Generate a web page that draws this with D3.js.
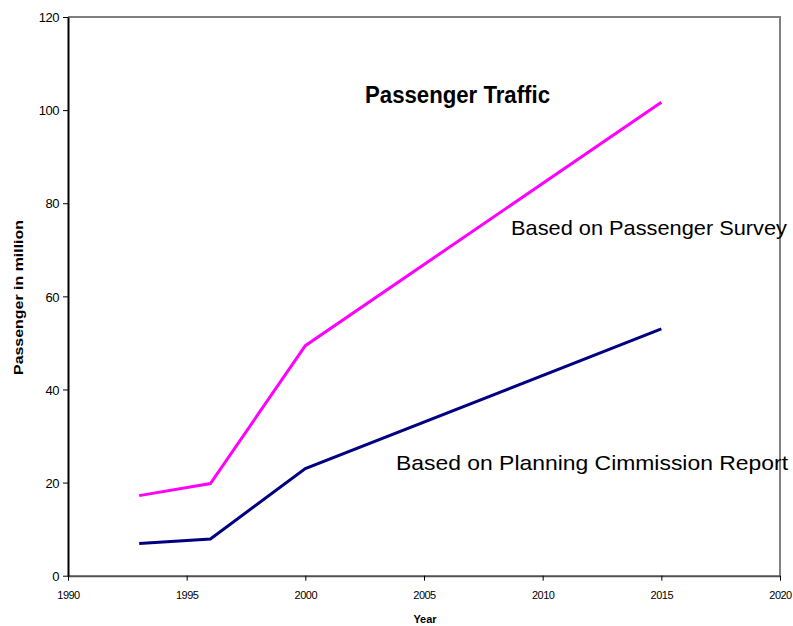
<!DOCTYPE html>
<html>
<head>
<meta charset="utf-8">
<script src="https://cdn.jsdelivr.net/npm/d3@7"></script>
<style>
  body { margin: 0; background: #fff; }
  svg { display: block; font-family: "Liberation Sans", Arial, sans-serif; }
</style>
</head>
<body>
<div id="chart"></div>
<script>
const years = [1993, 1996, 2000, 2015];
const surveyValues = [17.2, 19.8, 49.4, 101.7];
const planningValues = [6.9, 7.9, 23.0, 53.0];
const xTicks = [1990, 1995, 2000, 2005, 2010, 2015, 2020];
const yTicks = [0, 20, 40, 60, 80, 100, 120];

const width = 793, height = 626;
const margin = {top: 17, right: 13, bottom: 50, left: 68};
const innerW = 780 - margin.left;
const innerH = 575.7 - margin.top;

const svg = d3.select("#chart").append("svg")
    .attr("width", width)
    .attr("height", height);

const g = svg.append("g")
    .attr("transform", `translate(${margin.left},${margin.top})`);

const x = d3.scaleLinear().domain([1990, 2020]).range([0, innerW]);
const y = d3.scaleLinear().domain([0, 120]).range([innerH, 0]);

// top and right frame
g.append("path")
    .attr("d", `M0,0H${innerW}V${innerH}`)
    .attr("fill", "none")
    .attr("stroke", "#808080")
    .attr("stroke-width", 2);

const xAxis = g.append("g")
    .attr("transform", `translate(0,${innerH})`)
    .call(d3.axisBottom(x).tickValues(xTicks).tickFormat(d3.format("d")).tickSize(5).tickSizeOuter(0));
xAxis.select(".domain").attr("stroke", "#505050").attr("stroke-width", 2);
xAxis.selectAll(".tick line").attr("stroke", "#000");
xAxis.selectAll("text")
    .attr("y", 16)
    .style("font-size", "11px")
    .style("letter-spacing", "-0.5px")
    .attr("fill", "#000");

const yAxis = g.append("g")
    .call(d3.axisLeft(y).tickValues(yTicks).tickSize(5).tickSizeOuter(0));
yAxis.select(".domain").attr("stroke", "#000").attr("stroke-width", 2);
yAxis.selectAll(".tick line").attr("stroke", "#000");
yAxis.selectAll("text")
    .attr("x", -9)
    .attr("dy", "0.36em")
    .style("font-size", "13px")
    .style("letter-spacing", "-0.5px")
    .attr("fill", "#000");

const line = d3.line()
    .x(d => x(d[0]))
    .y(d => y(d[1]));

g.append("path")
    .datum(years.map((yr, i) => [yr, surveyValues[i]]))
    .attr("d", line)
    .attr("fill", "none")
    .attr("stroke", "#ff00ff")
    .attr("stroke-width", 3);

g.append("path")
    .datum(years.map((yr, i) => [yr, planningValues[i]]))
    .attr("d", line)
    .attr("fill", "none")
    .attr("stroke", "#000080")
    .attr("stroke-width", 3);

// titles and annotations
svg.append("text")
    .attr("x", 365).attr("y", 103)
    .attr("textLength", 185).attr("lengthAdjust", "spacingAndGlyphs")
    .style("font-size", "23px").style("font-weight", "bold")
    .text("Passenger Traffic");

svg.append("text")
    .attr("x", 511).attr("y", 235)
    .attr("textLength", 276).attr("lengthAdjust", "spacingAndGlyphs")
    .style("font-size", "21px")
    .text("Based on Passenger Survey");

svg.append("text")
    .attr("x", 396).attr("y", 470)
    .attr("textLength", 392).attr("lengthAdjust", "spacingAndGlyphs")
    .style("font-size", "21px")
    .text("Based on Planning Cimmission Report");

svg.append("text")
    .attr("transform", "translate(23,297.5) rotate(-90)")
    .attr("text-anchor", "middle")
    .attr("textLength", 155).attr("lengthAdjust", "spacingAndGlyphs")
    .style("font-size", "13px").style("font-weight", "bold")
    .text("Passenger in million");

svg.append("text")
    .attr("x", 425).attr("y", 623)
    .attr("text-anchor", "middle")
    .style("font-size", "11px").style("font-weight", "bold")
    .text("Year");
</script>
</body>
</html>
